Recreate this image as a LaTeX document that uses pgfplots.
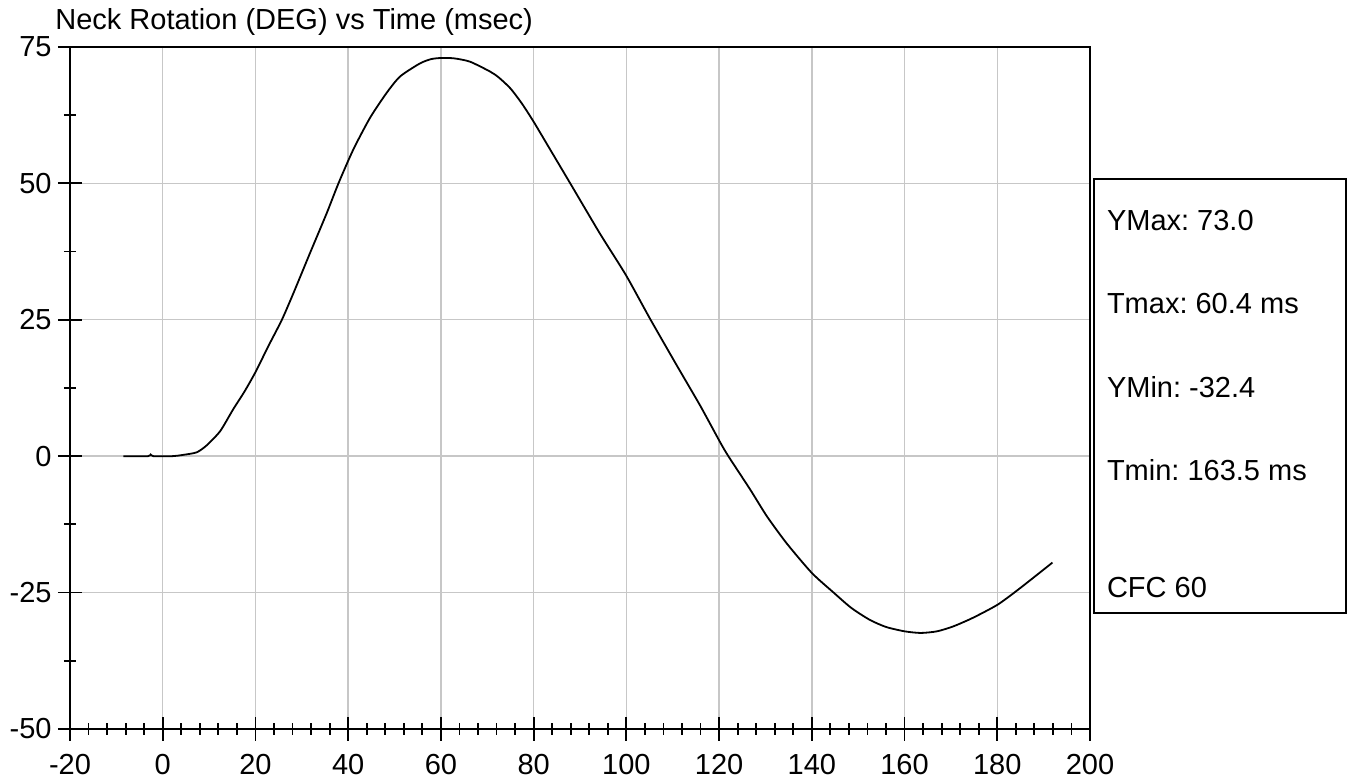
\documentclass[border=0pt]{standalone}
\usepackage{fontspec}
\setmainfont{Liberation Sans}
\usepackage{pgfplots}
\pgfplotsset{compat=1.18}
\frenchspacing
\begin{document}
\begin{tikzpicture}
\useasboundingbox (-35pt,-25pt) rectangle (640pt,364.5pt);
\begin{axis}[
  at={(0,0)}, anchor=south west,
  scale only axis, width=510pt, height=341pt,
  xmin=-20, xmax=200, ymin=-50, ymax=75,
  xtick={-20,0,...,200}, ytick={-50,-25,0,25,50,75},
  minor x tick num=4, minor y tick num=1,
  xtick pos=bottom, ytick pos=left,
  tick align=center,
  major tick length=12pt, minor tick length=6pt,
  every tick/.style={black, line width=0.9pt},
  axis line style={black, line width=1pt},
  grid=major,
  major grid style={draw=black!22, line width=0.7pt},
  tick label style={font=\fontsize{14.5}{17}\selectfont},
  /pgf/number format/assume math mode=true,
  yticklabel style={anchor=east, inner sep=0pt, xshift=-3pt},
  xticklabel style={anchor=north, inner sep=0pt, yshift=-6.5pt},
  scaled ticks=false,
]
\addplot[black, line width=0.9pt, smooth, tension=0.4] coordinates {
(-8.5,0) (-3.2,0) (-2.6,0.3) (-2.0,0) (2,0) (4.1,0.2) (7.3,0.7) (9.5,2.0)
(12.4,4.6) (15.2,8.6) (17.6,11.8) (20,15.4) (22.8,20.2) (25.7,25) (28.2,29.9)
(31.8,37.3) (35.4,44.6) (37.9,50) (41.1,56.2) (44.7,62.0) (48.3,66.6)
(51.2,69.6) (55.5,72.0) (58,72.8) (60.4,73.0) (63,72.9) (66.3,72.3)
(70.6,70.5) (72.5,69.4) (75,67.4) (77.5,64.6) (80,61.3) (83.5,56.3)
(87.9,50) (94.3,40.8) (99.9,33.2) (105.1,25.2) (110.9,16.6) (115.9,9.3)
(120.2,2.6) (122,0) (126.7,-6.1) (130.3,-11.0) (134.6,-16.0) (140,-21.4)
(144.7,-25.0) (148.5,-27.8) (152.5,-30.0) (156,-31.3) (160,-32.1)
(163.5,-32.4) (167,-32.1) (170.5,-31.2) (174.8,-29.6) (180.1,-27.2)
(184.9,-24.2) (191.9,-19.5)
};
\end{axis}
\begin{scope}[every node/.style={anchor=base west, inner sep=0pt, font=\fontsize{14.5}{17}\selectfont}]
\node at (-7.5pt,349.5pt) {Neck Rotation (DEG) vs Time (msec)};
\draw[black, line width=1pt] (512pt,58pt) rectangle (638pt,275pt);
\node at (518.3pt,249.2pt) {YMax: 73.0};
\node at (518.3pt,207.5pt) {Tmax: 60.4 ms};
\node at (518.3pt,165.8pt) {YMin: -32.4};
\node at (518.3pt,124.2pt) {Tmin: 163.5 ms};
\node at (518.3pt,65.8pt) {CFC 60};
\end{scope}
\end{tikzpicture}
\end{document}
